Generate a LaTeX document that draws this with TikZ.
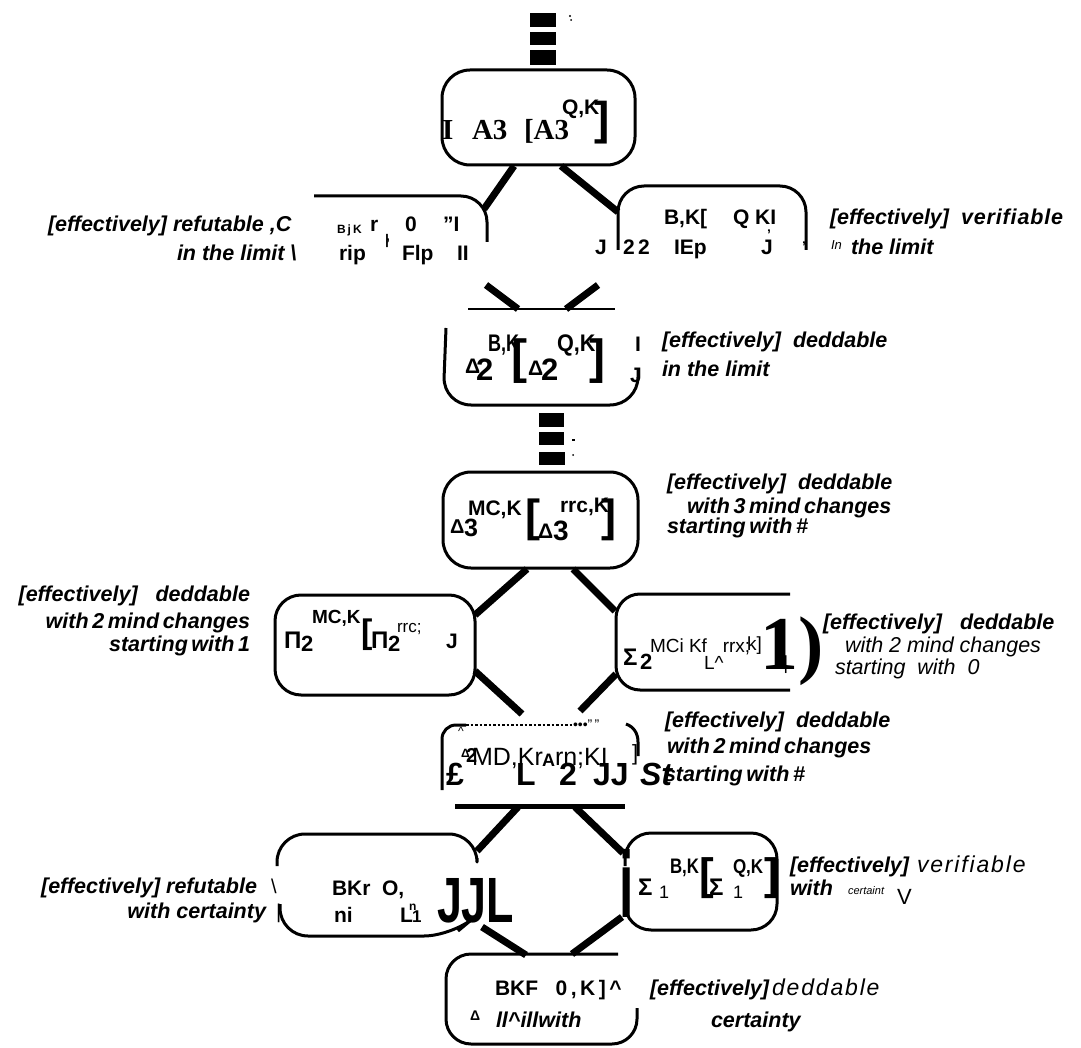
\documentclass[tikz,border=0pt]{standalone}
\usepackage{graphicx}
\usepackage{fontspec}
\setmainfont{Liberation Serif}
\setsansfont{Liberation Sans}
\newcommand\fz[1]{\fontsize{#1}{#1}\selectfont}
\newcommand\sx[2]{\scalebox{#1}[1]{#2}}
\begin{document}
\begin{tikzpicture}[x=1pt,y=-1pt,
 boxline/.style={line width=3pt, line join=round},
 conn/.style={line width=7pt},
 tw/.style={inner sep=0pt, outer sep=0pt, anchor=base west},
 te/.style={inner sep=0pt, outer sep=0pt, anchor=base east},
 lab/.style={tw, font=\sffamily\bfseries\itshape\fz{21.5}},
 labe/.style={te, font=\sffamily\bfseries\itshape\fz{21.5}},
 labr/.style={tw, font=\sffamily\itshape\fz{21.5}},
 bx/.style={tw, font=\sffamily\bfseries\fz{21}},
 bxr/.style={tw, font=\sffamily\fz{19}},
]
\useasboundingbox (0,0) rectangle (1081,1048);
\fill[white] (0,0) rectangle (1081,1048);

% ---------- top blocks
\fill (530,13) rectangle (556,27);
\fill (530,32) rectangle (556,45);
\fill (530,50) rectangle (556,65);
\fill (570,16) circle (1.2);
\fill (571,20) circle (1);

% ---------- box A
\draw[boxline, rounded corners=28] (442,70) rectangle (635,165);
\node[tw, font=\rmfamily\bfseries\fz{29}] (a1) at (442,140) {I};
\node[tw, font=\rmfamily\bfseries\fz{29}] (a2) at (472,140) {A3};
\node[tw, font=\rmfamily\bfseries\fz{29}] (a3) at (524,140) {[A3};
\node[bx] (a4) at (562,115) {Q,K};
\node[tw, font=\sffamily\bfseries\fz{46}] (a5) at (594,135) {]};

\coordinate (Abl) at (514,166);
\coordinate (Bj) at (484,209);
\coordinate (Abr) at (561,166);
\coordinate (Cj) at (618,212);
\draw[conn] (Abl) -- (Bj);
\draw[conn] (Abr) -- (Cj);

% ---------- box B (left, in the limit)
\draw[boxline, rounded corners=26] (314,196) -- (487,196) -- (487,242);
\node[lab] (bl1) at (48,232) {[effectively] refutable ,C};
\node[lab] (bl2) at (177,261) {in the limit \textbackslash};
\node[tw, font=\sffamily\bfseries\fz{12}] (b1) at (337,234) {B\,j\,K};
\node[bx] (b2) at (370,232) {r};
\node[tw, font=\sffamily\bfseries\fz{14}] (b3) at (385,245) {|};
\node[bx] (b4) at (405,232) {0};
\node[bx] (b5) at (443,232) {"I};
\node[bx] (b6) at (339,261) {rip};
\node[tw, font=\sffamily\bfseries\fz{14}] (b7) at (386,249) {'};
\node[bx] (b8) at (402,261) {Flp};
\node[bx] (b9) at (457,261) {II};

% ---------- box C (right, in the limit)
\draw[boxline, rounded corners=26] (618,250) -- (618,186) -- (806,186) -- (806,250);
\node[bx] (c1) at (664,225) {B,K[};
\node[bx] (c2) at (733,225) {Q KI};
\node[bx] (c3) at (595,255) {J};
\node[bx] (c4) at (623,255) {2\,2};
\node[bx] (c5) at (674,255) {IEp};
\node[bx] (c6) at (761,255) {J};
\node[tw, font=\sffamily\bfseries\fz{14}] (c7) at (767,240) {'};
\node[tw, font=\sffamily\bfseries\fz{14}] (c8) at (802,252) {'};
\node[lab] (cl1) at (830,225) {[effectively]\ \ {\addfontfeature{LetterSpace=4}verifiable}};
\node[tw, font=\sffamily\itshape\fz{13}] (cl2a) at (831,250) {In};
\node[lab] (cl2b) at (851,255) {the limit};

% ---------- X connectors and box D
\coordinate (Bx) at (486,285);
\coordinate (Dxl) at (518,309);
\coordinate (Cx) at (598,285);
\coordinate (Dxr) at (566,309);
\draw[conn] (Bx) -- (Dxl);
\draw[conn] (Cx) -- (Dxr);
\coordinate (Dtl) at (468,309);
\coordinate (Dtr) at (615,309);
\draw[line width=2pt] (Dtl) -- (Dtr);
\draw[boxline, rounded corners=28] (446,328) -- (443,405) -- (638,405) -- (638,370);
\node[tw, font=\sffamily\bfseries\fz{21}] (d1) at (465,373) {Δ};
\node[tw, font=\sffamily\bfseries\fz{31}] (d2) at (476,380) {2};
\node[tw, font=\sffamily\bfseries\fz{24}] (d3) at (488,352) {\sx{0.75}{B,K}};
\node[tw, font=\sffamily\bfseries\fz{48}] (d4) at (511,373) {[};
\node[tw, font=\sffamily\bfseries\fz{24}] (d5) at (557,352) {\sx{0.9}{Q,K}};
\node[tw, font=\sffamily\bfseries\fz{21}] (d6) at (528,375) {Δ};
\node[tw, font=\sffamily\bfseries\fz{31}] (d7) at (541,380) {2};
\node[tw, font=\sffamily\bfseries\fz{48}] (d8) at (589,373) {]};
\node[bx] (d9) at (635,352) {I};
\node[bx] (d10) at (630,382) {J};
\node[lab] (dl1) at (662,348) {[effectively]\ \ deddable};
\node[lab] (dl2) at (662,377) {in the limit};

% ---------- middle blocks
\fill (539,413) rectangle (564,427);
\fill (539,432) rectangle (564,445);
\fill (539,452) rectangle (565,465);
\fill (572,439) rectangle (575,441);
\fill (573,455) circle (1);

% ---------- box E
\draw[boxline, rounded corners=28] (443,472) rectangle (638,568);
\node[tw, font=\sffamily\bfseries\fz{20}] (e1) at (450,533) {Δ};
\node[tw, font=\sffamily\bfseries\fz{25}] (e2) at (464,536) {3};
\node[tw, font=\sffamily\bfseries\fz{21}] (e3) at (468,515) {MC,K};
\node[tw, font=\sffamily\bfseries\fz{45}] (e4) at (525,531) {[};
\node[tw, font=\sffamily\bfseries\fz{21}] (e5) at (538,538) {Δ};
\node[tw, font=\sffamily\bfseries\fz{28}] (e6) at (553,540) {3};
\node[tw, font=\sffamily\bfseries\fz{21}] (e7) at (560,512) {rrc,K};
\node[tw, font=\sffamily\bfseries\fz{45}] (e8) at (601,531) {]};
\node[lab] (el1) at (667,489) {[effectively]\ \ deddable};
\node[lab] (el2) at (687,513) {with\,3\,mind\,changes};
\node[lab] (el3) at (667,533) {starting\,with\,\#};

\coordinate (Ebl) at (527,569);
\coordinate (Fj) at (475,615);
\coordinate (Ebr) at (573,569);
\coordinate (Gj) at (615,611);
\draw[conn] (Ebl) -- (Fj);
\draw[conn] (Ebr) -- (Gj);

% ---------- box F
\draw[boxline, rounded corners=26] (275,595) rectangle (475,695);
\node[tw, font=\sffamily\bfseries\fz{24}] (f1) at (284,648) {Π};
\node[tw, font=\sffamily\bfseries\fz{22}] (f2) at (301,651) {2};
\node[tw, font=\sffamily\bfseries\fz{19}] (f3) at (312,623) {MC,K};
\node[tw, font=\sffamily\bfseries\fz{34}] (f4) at (361,643) {[};
\node[tw, font=\sffamily\bfseries\fz{24}] (f5) at (371,648) {Π};
\node[tw, font=\sffamily\bfseries\fz{22}] (f6) at (388,651) {2};
\node[tw, font=\sffamily\fz{17}] (f7) at (397,632) {rrc;};
\node[bx] (f8) at (446,648) {J};
\node[labe] (fl1) at (250,601) {[effectively]\ \ \ deddable};
\node[labe] (fl2) at (250,628) {with\,2\,mind\,changes};
\node[labe] (fl3) at (250,651) {starting\,with\,1};

% ---------- box G
\draw[boxline, rounded corners=24] (790,594) -- (616,594) -- (616,690) -- (790,690);
\node[tw, font=\sffamily\bfseries\fz{24}] (g1) at (623,665) {Σ};
\node[tw, font=\sffamily\bfseries\fz{22}] (g2) at (640,669) {2};
\node[bxr] (g3) at (650,652) {MCi Kf\ \ \ rrx;};
\node[bxr] (g4) at (704,669) {L\textasciicircum};
\node[bxr] (g5) at (747,650) {k]};
\node[bxr] (g6) at (778,669) {I|};
\node[tw, font=\rmfamily\bfseries\fz{76}] (g7) at (760,669) {1)};
\node[lab] (gl1) at (823,629) {[effectively]\ \ \ deddable};
\node[labr] (gl2) at (845,652) {with 2 mind changes};
\node[labr] (gl3) at (835,674) {starting\ \ with\ \ 0};

\coordinate (Fbr) at (475,671);
\coordinate (Hl) at (522,714);
\coordinate (Gbl) at (616,674);
\coordinate (Hr) at (580,711);
\draw[conn] (Fbr) -- (Hl);
\draw[conn] (Gbl) -- (Hr);

% ---------- box H
\draw[boxline, rounded corners=14] (442,790) -- (442,725) -- (466,725);
\draw[line width=2.5pt, dotted] (466,725) -- (573,725);
\draw[boxline] (626,724) to[out=-20,in=90] (638,742) -- (638,756);
\draw[line width=5pt] (455,806) -- (625,806);
\node[tw, font=\sffamily\fz{12}] (h0) at (458,735) {\textasciicircum};
\node[tw, font=\sffamily\bfseries\fz{12}] (h1) at (461,757) {Δ};
\node[tw, font=\sffamily\bfseries\fz{20}] (h2) at (466,762) {2};
\node[tw, font=\sffamily\fz{25}] (h3) at (472,765) {MD,Kr};
\node[tw, font=\sffamily\fz{25}] (h4) at (555,765) {rn;KI};
\node[tw, font=\sffamily\fz{22}] (h5) at (632,760) {]};
\node[tw, font=\sffamily\bfseries\fz{18}] (h6) at (542,766) {A};
\node[tw, font=\sffamily\bfseries\fz{32}] (h7) at (446,785) {£};
\node[tw, font=\sffamily\bfseries\fz{32}] (h8) at (516,785) {L};
\node[tw, font=\sffamily\bfseries\fz{32}] (h9) at (559,785) {2};
\node[tw, font=\sffamily\bfseries\fz{32}] (h10) at (593,785) {JJ};
\node[tw, font=\sffamily\bfseries\itshape\fz{32}] (h11) at (640,785) {St};
\node[tw, font=\sffamily\fz{14}] (h12) at (573,729) {•••"\,"};
\node[lab] (hl1) at (665,727) {[effectively]\ \ deddable};
\node[lab] (hl2) at (667,753) {with\,2\,mind\,changes};
\node[lab] (hl3) at (664,781) {starting\,with\,\#};

\coordinate (Hbl) at (518,807);
\coordinate (Ij) at (477,851);
\coordinate (Hbr) at (575,807);
\coordinate (Jj) at (623,853);
\draw[conn] (Hbl) -- (Ij);
\draw[conn] (Hbr) -- (Jj);

% ---------- box I
\draw[boxline, rounded corners=28] (277,866) -- (277,834) -- (477,834) -- (477,858);
\draw[boxline, rounded corners=28] (280,904) -- (280,936) -- (452,936) -- (458,931);
\node[labe] (il1) at (257,893) {[effectively] refutable};
\node[tw, font=\sffamily\fz{20}] (il1b) at (271,893) {\textbackslash};
\node[labe] (il2) at (266,918) {with certainty};
\node[tw, font=\sffamily\fz{20}] (il2b) at (276,918) {|};
\node[bx] (i1) at (332,895) {BKr\ \ O,};
\node[bx] (i2) at (334,922) {ni};
\node[bx] (i3) at (400,922) {L};
\node[tw, font=\sffamily\bfseries\fz{12}] (i4) at (409,910) {n};
\node[tw, font=\sffamily\bfseries\fz{17}] (i5) at (412,922) {1};
\node[tw, font=\sffamily\bfseries\fz{64}] (i6) at (437,922) {\sx{0.7}{JJL}};

% ---------- box J
\draw[boxline, rounded corners=26] (625,866) -- (625,833) -- (777,833) -- (777,930) -- (625,930) -- (625,900);
\node[tw, font=\sffamily\bfseries\fz{94}] (ji) at (619,917) {\sx{0.55}{i}};
\node[tw, font=\sffamily\bfseries\fz{24}] (j1) at (638,895) {Σ};
\node[tw, font=\sffamily\fz{18}] (j2) at (659,898) {1};
\node[tw, font=\sffamily\bfseries\fz{21}] (j3) at (670,873) {\sx{0.8}{B,K}};
\node[tw, font=\sffamily\bfseries\fz{44}] (j4) at (699,889) {[};
\node[tw, font=\sffamily\bfseries\fz{24}] (j5) at (709,895) {Σ};
\node[tw, font=\sffamily\fz{18}] (j6) at (733,898) {1};
\node[tw, font=\sffamily\bfseries\fz{20}] (j7) at (733,873) {\sx{0.85}{Q,K}};
\node[tw, font=\sffamily\bfseries\fz{44}] (j8) at (764,889) {]};
\node[lab] (jl1) at (790,872) {[effectively]};
\node[tw, font=\sffamily\itshape\fz{23}] (jl2) at (917,872) {\addfontfeature{LetterSpace=8}verifiable};
\node[lab] (jl3) at (790,895) {with};
\node[tw, font=\sffamily\itshape\fz{11}] (jl4) at (848,894) {certaint};
\node[tw, font=\sffamily\fz{22}] (jl5) at (897,904) {V};

\coordinate (Ibr) at (482,927);
\coordinate (Kl) at (526,955);
\coordinate (Jbl) at (622,917);
\coordinate (Kr) at (572,954);
\draw[conn] (Ibr) -- (Kl);
\draw[conn] (Jbl) -- (Kr);

% ---------- box K
\draw[boxline, rounded corners=25] (618,954) -- (446,954) -- (446,1044) -- (637,1044) -- (637,1008);
\node[bx] (k1) at (495,995) {BKF\ \ \ 0\,,\,K\,]\,\textasciicircum};
\node[tw, font=\sffamily\bfseries\fz{14}] (k2) at (470,1020) {Δ};
\node[lab] (k3) at (496,1027) {ll\textasciicircum illwith};
\node[lab] (kl1) at (650,995) {[effectively]};
\node[tw, font=\sffamily\itshape\fz{23}] (kl2) at (772,995) {\addfontfeature{LetterSpace=8}deddable};
\node[lab] (kl3) at (711,1027) {certainty};
\end{tikzpicture}
\end{document}
